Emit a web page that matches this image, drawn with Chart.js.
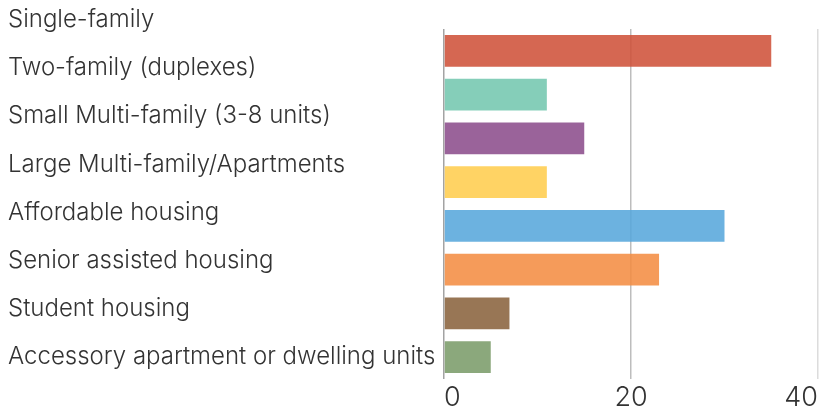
<!DOCTYPE html>
<html>
<head>
<meta charset="utf-8">
<script src="https://cdn.jsdelivr.net/npm/chart.js@4.4.1/dist/chart.umd.min.js"></script>
<style>
  html, body { margin: 0; padding: 0; background: #fff; }
  #wrap { width: 823px; height: 409px; }
</style>
</head>
<body>
<div id="wrap"><canvas id="housingChart"></canvas></div>
<script>
const categories = [
    'Single-family',
    'Two-family (duplexes)',
    'Small Multi-family (3-8 units)',
    'Large Multi-family/Apartments',
    'Affordable housing',
    'Senior assisted housing',
    'Student housing',
    'Accessory apartment or dwelling units'
];
const responses = [35, 11, 15, 11, 30, 23, 7, 5];
const barColors = [
    'rgba(207, 82, 58, 0.88)',
    'rgba(116, 199, 175, 0.88)',
    'rgba(140, 77, 140, 0.88)',
    'rgba(255, 205, 79, 0.88)',
    'rgba(88, 167, 220, 0.88)',
    'rgba(244, 141, 67, 0.88)',
    'rgba(138, 99, 61, 0.88)',
    'rgba(123, 156, 106, 0.88)'
];
const xTicks = [0, 20, 40];
const gridColors = ['#a3a3a3', '#bdbdbd', '#dcdcdc'];

const textColor = '#333333';
const fontFamily = 'Inter';

function drawChart() {
    const ctx = document.getElementById('housingChart').getContext('2d');

    new Chart(ctx, {
        type: 'bar',
        data: {
            labels: categories,
            datasets: [{
                data: responses,
                backgroundColor: barColors,
                borderWidth: 0,
                barPercentage: 0.73,
                categoryPercentage: 1
            }]
        },
        options: {
            indexAxis: 'y',
            responsive: true,
            maintainAspectRatio: false,
            animation: false,
            layout: {
                padding: { top: 29, right: 5, bottom: 0, left: 8 }
            },
            plugins: {
                legend: { display: false },
                tooltip: { enabled: false }
            },
            scales: {
                x: {
                    min: 0,
                    max: 40,
                    afterBuildTicks: axis => { axis.ticks = xTicks.map(v => ({ value: v })); },
                    // labels hang a little below the axis box, like the original
                    afterFit: axis => { axis.height = 30; },
                    border: { display: false },
                    grid: {
                        drawTicks: false,
                        lineWidth: 1.5,
                        color: c => gridColors[c.index] || '#dddddd'
                    },
                    ticks: {
                        align: 'inner',
                        padding: 5,
                        color: textColor,
                        font: { family: fontFamily, weight: 300, size: 27, lineHeight: 1 }
                    }
                },
                y: {
                    display: false
                },
                // separate axis only for the category names, spread a bit wider than the bars
                names: {
                    type: 'linear',
                    position: 'left',
                    reverse: true,
                    offset: false,
                    min: 0.19,
                    max: 7.46,
                    afterBuildTicks: axis => { axis.ticks = categories.map((c, i) => ({ value: i })); },
                    // chart.js caps side axes at half the width, the long names need more
                    afterFit: axis => {
                        const c = axis.ctx;
                        c.save();
                        c.font = Chart.helpers.toFont(axis.options.ticks.font).string;
                        const widest = Math.max(...categories.map(t => c.measureText(t).width));
                        c.restore();
                        axis.width = Math.ceil(widest) + axis.options.ticks.padding;
                    },
                    border: { display: false },
                    grid: { display: false },
                    ticks: {
                        autoSkip: false,
                        crossAlign: 'far',
                        padding: 8,
                        color: textColor,
                        font: { family: fontFamily, weight: 300, size: 24 },
                        callback: v => categories[v]
                    }
                }
            }
        }
    });
}

// wait for the font so label widths are measured right
Promise.all([
    document.fonts.load('300 24px Inter'),
    document.fonts.load('300 27px Inter')
]).then(drawChart, drawChart);
</script>
</body>
</html>
